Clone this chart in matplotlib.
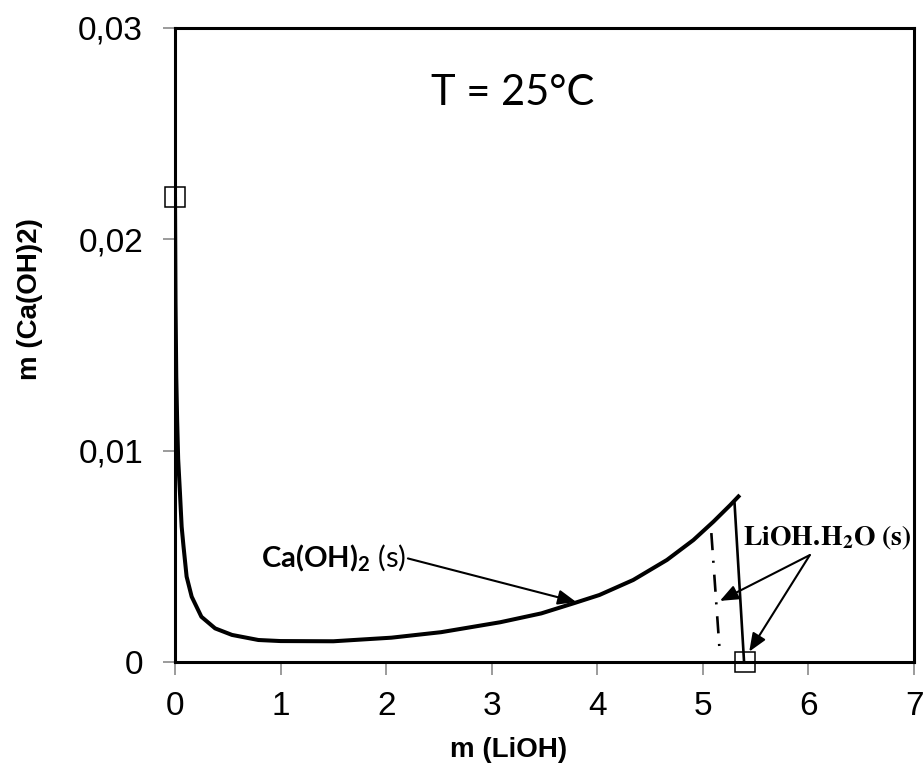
import matplotlib
matplotlib.use("Agg")
import matplotlib.pyplot as plt

# --- data ---
ca_x = [0.0, 0.005, 0.012, 0.02, 0.03, 0.047, 0.063, 0.08, 0.11, 0.158, 0.25,
        0.38, 0.54, 0.79, 1.0, 1.5, 2.05, 2.52, 3.08, 3.47, 3.79, 4.02, 4.34,
        4.66, 4.91, 5.10, 5.26, 5.35]
ca_y = [0.0220, 0.0170, 0.0135, 0.0115, 0.0096, 0.0080, 0.0064, 0.0055, 0.00404,
        0.00309, 0.00214, 0.00159, 0.00128, 0.00104, 0.00099, 0.00098, 0.00115,
        0.00141, 0.00188, 0.0023, 0.0028, 0.00317, 0.00388, 0.00483, 0.00577,
        0.00664, 0.00743, 0.0079]

lioh_x = [5.30, 5.39]
lioh_y = [0.0075, 0.0]

meta_x = [5.08, 5.156]
meta_y = [0.0061, 0.00072]

inv_x = [0.0, 5.40]
inv_y = [0.02202, 0.0]

xticks = [0, 1, 2, 3, 4, 5, 6, 7]
yticks = [0, 0.01, 0.02, 0.03]
ytick_labels = ["0", "0,01", "0,02", "0,03"]

plt.rcParams["mathtext.fontset"] = "custom"
plt.rcParams["mathtext.rm"] = "Lato"
plt.rcParams["mathtext.bf"] = "Lato:bold"

fig = plt.figure(figsize=(9.23, 7.71), dpi=100)
ax = fig.add_axes([0.1896, 0.1414, 0.8007, 0.8223])

ax.plot(ca_x, ca_y, color="black", lw=2.9, solid_joinstyle="round",
        solid_capstyle="butt", zorder=3)
ax.plot(lioh_x, lioh_y, color="black", lw=1.9, zorder=3)
ax.plot(meta_x, meta_y, color="black", lw=1.9, linestyle=(0, (6.5, 4, 0.8, 4.5)), zorder=3)
ax.plot(inv_x, inv_y, linestyle="none", marker="s", markersize=14,
        markerfacecolor="none", markeredgecolor="black", markeredgewidth=1.1,
        clip_on=False, zorder=4)

ax.set_xlim(0, 7)
ax.set_ylim(0, 0.03)
ax.set_xticks(xticks)
ax.set_yticks(yticks)
ax.set_yticklabels(ytick_labels)

for s in ax.spines.values():
    s.set_linewidth(2.2)
    s.set_color("black")

ax.tick_params(direction="out", length=9, width=1.1, color="#808080",
               labelsize=24, labelcolor="black")
ax.tick_params(axis="x", pad=12)
ax.tick_params(axis="y", pad=14)
for lab in ax.get_xticklabels() + ax.get_yticklabels():
    lab.set_fontfamily("Liberation Sans")

ax.set_xlabel("m (LiOH)", fontsize=20, fontweight="bold", fontfamily="Liberation Sans")
ax.set_ylabel("m (Ca(OH)2)", fontsize=20, fontweight="bold", fontfamily="Liberation Sans")
ax.xaxis.set_label_coords(0.452, -0.118)
ax.yaxis.set_label_coords(-0.178, 0.5726)

ax.text(3.20, 0.02636, "T = 25°C", ha="center", va="baseline",
        fontsize=30, fontfamily="Lato")

# Ca(OH)2 label and arrow
ax.text(2.19, 0.00445, r"$\mathbf{Ca(OH)_2}$ (s)", ha="right", va="baseline",
        fontsize=21, fontfamily="Lato", math_fontfamily="custom")
arrow = dict(arrowstyle="-|>,head_length=1.1,head_width=0.45", color="black",
             lw=1.5, shrinkA=0, shrinkB=0)
ax.annotate("", xy=(3.80, 0.00284), xytext=(2.206, 0.0049), arrowprops=arrow)

# LiOH.H2O label and arrows
ax.text(5.379, 0.00554, r"$\mathbf{LiOH.\!H_2O\ (s)}$", ha="left", va="baseline",
        fontsize=20, math_fontfamily="stix")
ax.annotate("", xy=(5.161, 0.00289), xytext=(6.013, 0.00506), arrowprops=arrow)
ax.annotate("", xy=(5.439, 0.00049), xytext=(6.013, 0.00506), arrowprops=arrow)

fig.savefig("out.png", dpi=100)
